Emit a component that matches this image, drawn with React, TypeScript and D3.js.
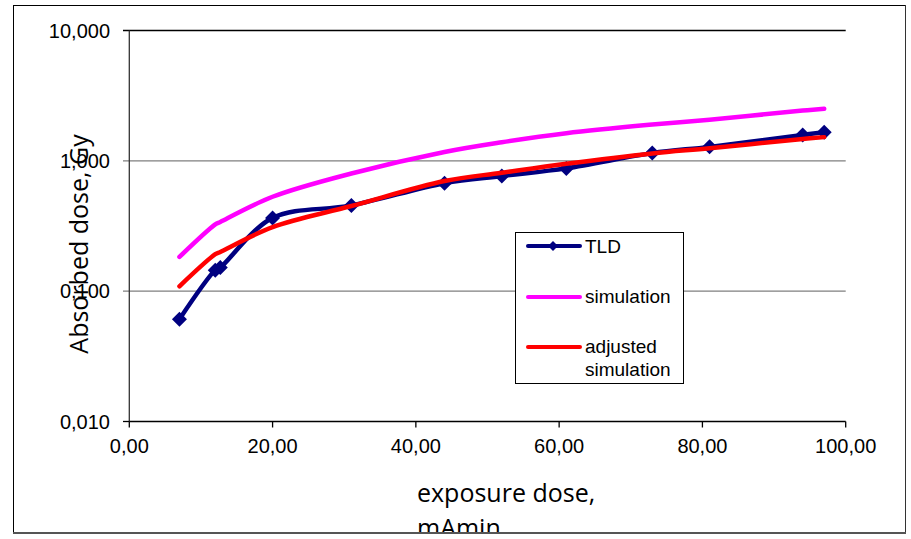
import React from "react";
import * as d3 from "d3";

const exposure = [7, 12, 12.7, 20, 31, 44, 52, 61, 73, 81, 94, 97];
const tld = [0.061, 0.145, 0.152, 0.365, 0.455, 0.674, 0.765, 0.875, 1.146, 1.28, 1.58, 1.66];
const simulation = [0.183, 0.325, 0.34, 0.53, 0.8, 1.17, 1.39, 1.63, 1.9, 2.07, 2.43, 2.51];
const adjusted = [0.109, 0.192, 0.2, 0.31, 0.45, 0.7, 0.81, 0.95, 1.14, 1.25, 1.47, 1.52];
const xTicks = [0, 20, 40, 60, 80, 100];
const xTickLabels = ["0,00", "20,00", "40,00", "60,00", "80,00", "100,00"];
const yTicks = [0.01, 0.1, 1, 10];
const yTickLabels = ["0,010", "0,100", "1,000", "10,000"];

const W = 911;
const H = 539;

export default function App() {
  const x = d3.scaleLinear().domain([0, 100]).range([129.3, 845.7]);
  const y = d3.scaleLog().domain([0.01, 10]).range([421.5, 30.5]);

  const line = (vals: number[]) =>
    d3
      .line<number>()
      .x((_, i) => x(exposure[i]))
      .y((v) => y(v))
      .curve(d3.curveCatmullRom.alpha(0.5))(vals) || "";

  const diamond = (cx: number, cy: number, r: number) =>
    `M${cx},${cy - r}L${cx + r},${cy}L${cx},${cy + r}L${cx - r},${cy}Z`;

  const arial = "'Liberation Sans', Arial, sans-serif";
  const sans = "'Open Sans', sans-serif";

  return (
    <svg
      width={W}
      height={H}
      style={{ position: "absolute", left: 0, top: 0, background: "#fff" }}
    >
      <defs>
        <clipPath id="frame">
          <rect x={13} y={5} width={892} height={527} />
        </clipPath>
      </defs>
      <rect x={0} y={0} width={W} height={H} fill="#fff" />
      <g clipPath="url(#frame)">
        {yTicks.map((t, i) =>
          i === 0 ? null : (
            <line
              key={"g" + t}
              x1={123}
              x2={x(100)}
              y1={y(t)}
              y2={y(t)}
              stroke={t === 10 ? "#000" : "#7f7f7f"}
              strokeWidth={1.3}
            />
          )
        )}
        <line x1={x(0)} x2={x(0)} y1={y(10)} y2={y(0.01)} stroke="#333" strokeWidth={1.3} />
        <line x1={123} x2={x(0)} y1={y(0.01)} y2={y(0.01)} stroke="#000" strokeWidth={1.3} />
        <line x1={x(0)} x2={x(100)} y1={y(0.01)} y2={y(0.01)} stroke="#000" strokeWidth={1.3} />
        {xTicks.map((t) => (
          <line
            key={"xt" + t}
            x1={x(t)}
            x2={x(t)}
            y1={y(0.01)}
            y2={y(0.01) + 6}
            stroke="#000"
            strokeWidth={1.3}
          />
        ))}
        {xTicks.map((t, i) => (
          <text
            key={"xl" + t}
            x={x(t)}
            y={453}
            textAnchor="middle"
            fontFamily={arial}
            fontSize={20}
            fill="#000"
          >
            {xTickLabels[i]}
          </text>
        ))}
        {yTicks.map((t, i) => (
          <text
            key={"yl" + t}
            x={110}
            y={y(t) + 7}
            textAnchor="end"
            fontFamily={arial}
            fontSize={20}
            fill="#000"
          >
            {yTickLabels[i]}
          </text>
        ))}

        <path d={line(simulation)} fill="none" stroke="#ff00ff" strokeWidth={4.5} strokeLinecap="round" />
        <path d={line(tld)} fill="none" stroke="#000080" strokeWidth={4.5} strokeLinecap="round" />
        {tld.map((v, i) => (
          <path key={"m" + i} d={diamond(x(exposure[i]), y(v), 7.5)} fill="#000080" />
        ))}
        <path d={line(adjusted)} fill="none" stroke="#ff0000" strokeWidth={4.5} strokeLinecap="round" />

        <text
          transform={`translate(88,244) rotate(-90)`}
          textAnchor="middle"
          fontFamily={sans}
          fontSize={25}
          fill="#000"
        >
          Absorbed dose, Gy
        </text>
        <text x={417} y={502} fontFamily={sans} fontSize={25} fill="#000">
          exposure dose,
        </text>
        <text x={417} y={537} fontFamily={sans} fontSize={25} fill="#000">
          mAmin
        </text>

        <rect x={515.5} y={232.5} width={168} height={151} fill="#fff" stroke="#000" strokeWidth={1} />
        <line x1={528} x2={580} y1={246} y2={246} stroke="#000080" strokeWidth={4} strokeLinecap="round" />
        <path d={diamond(553, 246, 5)} fill="#000080" />
        <text x={585} y={253} fontFamily={arial} fontSize={19} fill="#000">TLD</text>
        <line x1={528} x2={580} y1={297} y2={297} stroke="#ff00ff" strokeWidth={4} strokeLinecap="round" />
        <text x={585} y={303} fontFamily={arial} fontSize={19} fill="#000">simulation</text>
        <line x1={528} x2={580} y1={347} y2={347} stroke="#ff0000" strokeWidth={4} strokeLinecap="round" />
        <text x={585} y={353} fontFamily={arial} fontSize={19} fill="#000">adjusted</text>
        <text x={585} y={376} fontFamily={arial} fontSize={19} fill="#000">simulation</text>
      </g>
      <line x1={13} x2={905} y1={5.5} y2={5.5} stroke="#000" strokeWidth={1} />
      <line x1={13.5} x2={13.5} y1={5} y2={533} stroke="#000" strokeWidth={1} />
      <line x1={905.5} x2={905.5} y1={5} y2={534} stroke="#333" strokeWidth={1} />
      <line x1={13} x2={906} y1={533} y2={533} stroke="#555" strokeWidth={2} />
    </svg>
  );
}
